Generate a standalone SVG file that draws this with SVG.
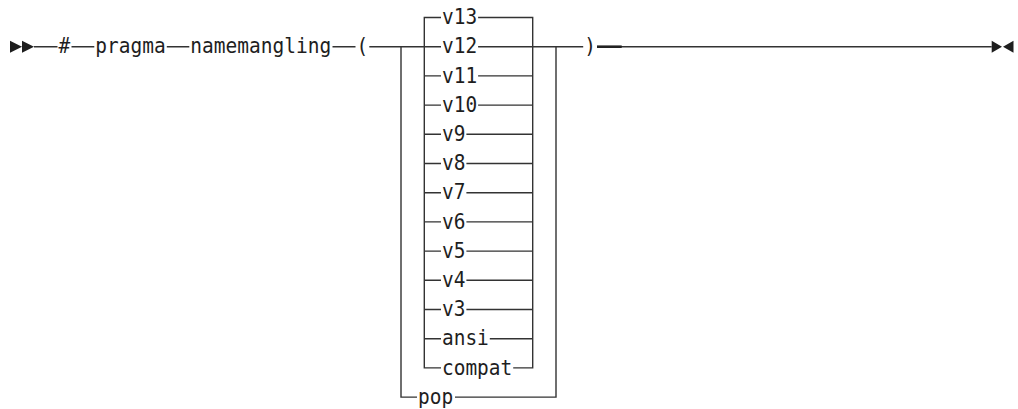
<svg xmlns="http://www.w3.org/2000/svg" width="1018" height="409" viewBox="0 0 1018 409">
<style>
.t{font-family:"DejaVu Sans Mono","Liberation Mono",monospace;font-size:20.5px;fill:#1e1e1e}
.c{fill:none;stroke:#333;stroke-width:1.4}
.a{fill:#1e1e1e}
</style>
<rect width="1018" height="409" fill="#fff"/>
<g id="connectors">
<path class="c" d="M34 46.7H57.5M71.5 46.7H94.3M166.8 46.7H189.3M332.5 46.7H355.5M369.3 46.7H441M478.1 46.7H583.2M597 46.7H991.7"/>
<path fill="none" stroke="#222" stroke-width="2.6" d="M597 46.7H621.7"/>
<path class="c" d="M441 17.5H424.3V367.9H441M478.1 17.5H532.7V367.9H513.2"/>
<path class="c" d="M424.3 75.9H441M478.1 75.9H532.7M424.3 105.1H441M478.1 105.1H532.7M424.3 134.3H441M466.4 134.3H532.7M424.3 163.5H441M466.4 163.5H532.7M424.3 192.7H441M466.4 192.7H532.7M424.3 221.9H441M466.4 221.9H532.7M424.3 251.1H441M466.4 251.1H532.7M424.3 280.3H441M466.4 280.3H532.7M424.3 309.5H441M466.4 309.5H532.7M424.3 338.7H441M489.8 338.7H532.7"/>
<path class="c" d="M401 46.7V397.1H417M455 397.1H556V46.7"/>
</g>
<g id="start">
<path class="a" d="M10 40.7L22 46.7L10 52.7ZM22 40.7L34 46.7L22 52.7Z"/>
</g>
<g id="end">
<path class="a" d="M991.7 40.7L1002 46.7L991.7 52.7ZM1013.5 40.7L1003 46.7L1013.5 52.7Z"/>
</g>
<g id="hash"><text class="t" x="58.5" y="53.3" textLength="11.7" lengthAdjust="spacingAndGlyphs">#</text></g>
<g id="pragma"><text class="t" x="95.3" y="53.3" textLength="70.4" lengthAdjust="spacingAndGlyphs">pragma</text></g>
<g id="namemangling"><text class="t" x="190.3" y="53.3" textLength="141" lengthAdjust="spacingAndGlyphs">namemangling</text></g>
<g id="lparen"><text class="t" x="356.5" y="53.3" textLength="11.7" lengthAdjust="spacingAndGlyphs">(</text></g>
<g id="rparen"><text class="t" x="584.2" y="53.3" textLength="11.7" lengthAdjust="spacingAndGlyphs">)</text></g>
<g id="v13"><text class="t" x="442" y="24.1" textLength="35.1" lengthAdjust="spacingAndGlyphs">v13</text></g>
<g id="v12"><text class="t" x="442" y="53.3" textLength="35.1" lengthAdjust="spacingAndGlyphs">v12</text></g>
<g id="v11"><text class="t" x="442" y="82.5" textLength="35.1" lengthAdjust="spacingAndGlyphs">v11</text></g>
<g id="v10"><text class="t" x="442" y="111.7" textLength="35.1" lengthAdjust="spacingAndGlyphs">v10</text></g>
<g id="v9"><text class="t" x="442" y="140.9" textLength="23.4" lengthAdjust="spacingAndGlyphs">v9</text></g>
<g id="v8"><text class="t" x="442" y="170.1" textLength="23.4" lengthAdjust="spacingAndGlyphs">v8</text></g>
<g id="v7"><text class="t" x="442" y="199.3" textLength="23.4" lengthAdjust="spacingAndGlyphs">v7</text></g>
<g id="v6"><text class="t" x="442" y="228.5" textLength="23.4" lengthAdjust="spacingAndGlyphs">v6</text></g>
<g id="v5"><text class="t" x="442" y="257.7" textLength="23.4" lengthAdjust="spacingAndGlyphs">v5</text></g>
<g id="v4"><text class="t" x="442" y="286.9" textLength="23.4" lengthAdjust="spacingAndGlyphs">v4</text></g>
<g id="v3"><text class="t" x="442" y="316.1" textLength="23.4" lengthAdjust="spacingAndGlyphs">v3</text></g>
<g id="ansi"><text class="t" x="442" y="345.3" textLength="46.8" lengthAdjust="spacingAndGlyphs">ansi</text></g>
<g id="compat"><text class="t" x="442" y="374.5" textLength="70.2" lengthAdjust="spacingAndGlyphs">compat</text></g>
<g id="pop"><text class="t" x="418" y="403.7" textLength="35.1" lengthAdjust="spacingAndGlyphs">pop</text></g>
</svg>
